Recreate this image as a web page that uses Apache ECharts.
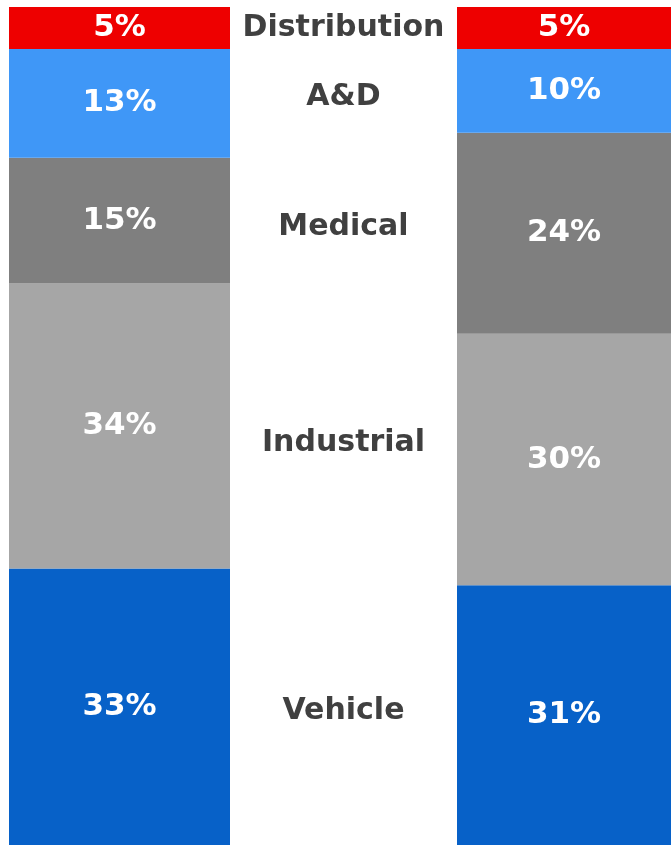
<!DOCTYPE html>
<html>
<head>
<meta charset="utf-8">
<script src="https://cdn.jsdelivr.net/npm/echarts@6/dist/echarts.min.js"></script>
<style>
  html, body { margin: 0; padding: 0; background: #fff; }
  #chart { width: 671px; height: 845px; }
</style>
</head>
<body>
<div id="chart"></div>
<script>
// segments, bottom to top
const segments = ['Vehicle', 'Industrial', 'Medical', 'A&D', 'Distribution'];
const leftValues = [33, 34, 15, 13, 5];
const rightValues = [31, 30, 24, 10, 5];
const colors = ['#0761C8', '#A6A6A6', '#7F7F7F', '#3F97F7', '#EE0000'];

const FONT = 'DejaVu Sans';

const chart = echarts.init(document.getElementById('chart'));

// three grids: left bar, middle labels, right bar
const grids = [
    { left: 9, width: 221, top: 7, bottom: 0 },
    { left: 230, width: 227, top: 7, bottom: 0 },
    { left: 457, width: 214, top: 7, bottom: 0 }
];

const xAxes = grids.map((g, i) => ({
    type: 'category', gridIndex: i, data: ['x'], show: false
}));
const yAxes = grids.map((g, i) => ({
    type: 'value', gridIndex: i, min: 0, max: 100, show: false
}));

const pctLabel = {
    show: true, position: 'inside', formatter: '{c}%',
    color: '#fff', fontFamily: FONT, fontWeight: 'bold', fontSize: 31
};

const series = [];
segments.forEach((name, k) => {
    // left bar
    series.push({
        name: name, type: 'bar', stack: 'left', xAxisIndex: 0, yAxisIndex: 0,
        barWidth: '100%', data: [leftValues[k]],
        itemStyle: { color: colors[k] },
        label: pctLabel
    });
    // middle labels, placed at the average of both bars
    series.push({
        name: name, type: 'bar', stack: 'mid', xAxisIndex: 1, yAxisIndex: 1,
        barWidth: '100%', data: [(leftValues[k] + rightValues[k]) / 2],
        itemStyle: { color: 'rgba(0,0,0,0)' },
        label: {
            show: true, position: 'inside', formatter: '{a}',
            color: '#404040', fontFamily: FONT, fontWeight: 'bold', fontSize: 30
        }
    });
    // right bar
    series.push({
        name: name, type: 'bar', stack: 'right', xAxisIndex: 2, yAxisIndex: 2,
        barWidth: '100%', data: [rightValues[k]],
        itemStyle: { color: colors[k] },
        label: pctLabel
    });
});

chart.setOption({
    animation: false,
    grid: grids,
    xAxis: xAxes,
    yAxis: yAxes,
    series: series
});
</script>
</body>
</html>
